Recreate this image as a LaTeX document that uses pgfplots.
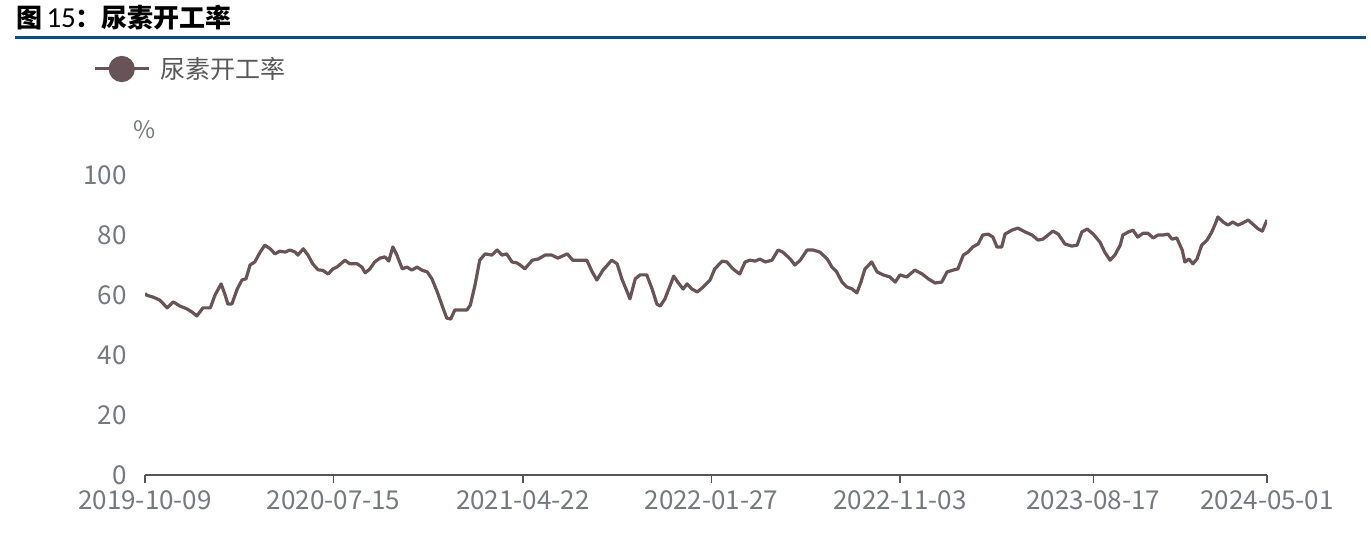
\documentclass[border=0pt]{standalone}
\usepackage{fontspec}
\setmainfont{Noto Sans CJK SC}
\newfontfamily\numfont{Carlito}
\usepackage{pgfplots}
\pgfplotsset{compat=1.18}
\definecolor{linec}{RGB}{104,84,86}
\definecolor{tickc}{RGB}{118,120,128}
\definecolor{axisc}{RGB}{84,86,92}
\definecolor{rulec}{RGB}{12,80,128}
\definecolor{legc}{RGB}{88,88,88}

\pgfplotstableread{
day rate
0 60.5
3 59.9
12 59.3
22 58.3
33 55.7
42 57.7
52 56.3
62 55.4
70 54.3
77 53
86 55.7
97 55.7
104 60
113 63.7
119 60
123 57
129 57
137 62
144 65
150 65.4
156 70
163 71
171 74.3
178 76.6
186 75.4
193 73.7
200 74.6
208 74.3
215 75
223 74.3
227 73.3
235 75.4
242 73.3
249 70.4
257 68.4
264 68.2
272 67
279 68.7
285 69.3
297 71.6
304 70.4
315 70.4
322 69.3
327 67.4
334 68.7
341 71
349 72.3
356 72.7
362 71.3
368 76
374 73.3
382 68.7
389 69.3
396 68.3
404 69.3
411 68.3
419 67.7
426 65.4
434 61
441 56.6
448 52.3
454 52
460 55
471 55
478 55
483 56.6
490 63.3
497 71.6
505 73.7
515 73.3
523 75
530 73.3
537 73.7
545 71
552 70.7
557 70
564 68.7
575 71.6
584 72
594 73.3
604 73.3
613 72.3
627 73.7
635 71.6
646 71.6
656 71.6
664 67.7
671 65
680 68.3
693 71.6
701 70.4
708 65.4
716 61
720 58.7
728 65.4
735 66.7
745 66.7
753 62
760 57
765 56.3
772 58.7
780 63.3
785 66.3
791 64.3
799 62
805 63.7
812 62
820 61
829 62.7
839 65
846 68.7
857 71.3
864 71
873 68.7
883 67
891 71
898 71.6
906 71.3
913 72
921 71
931 71.6
940 75
947 74.3
958 72
965 70
973 71.6
983 75
992 75
1002 74.3
1013 72
1020 69.3
1027 67.7
1035 64.3
1042 62.7
1050 62
1057 60.7
1063 64.3
1069 68.7
1079 71
1087 67.7
1096 66.7
1106 66
1114 64.3
1121 66.7
1131 66
1143 68.3
1154 67
1163 65.4
1173 64
1183 64.3
1191 67.7
1200 68.3
1207 68.7
1215 73.3
1222 74.3
1229 76
1237 77
1244 80
1252 80.3
1259 79.3
1265 76
1272 76
1277 80.3
1287 81.6
1296 82.3
1307 81
1317 80
1326 78.3
1333 78.6
1341 80
1348 81.3
1356 80.3
1366 77
1376 76.3
1384 76.6
1391 81
1399 82
1408 80.3
1418 77.6
1425 74.3
1433 71.6
1440 73.3
1448 76.6
1452 80
1460 81
1467 81.6
1474 79.3
1482 80.6
1489 80.6
1497 79
1504 80
1512 80
1519 80.3
1525 78.6
1532 79
1540 75
1544 71
1550 72
1556 70.4
1562 72
1569 76.6
1577 78.3
1584 81
1589 83.6
1593 86
1601 84.3
1608 83.3
1615 84.3
1623 83.3
1630 84
1638 85
1645 83.6
1653 82
1659 81.3
1666 85
}\ureadata

\begin{document}
\begin{tikzpicture}[x=1pt,y=1pt]
\useasboundingbox (0,0) rectangle (1371,537);
% title and rule
\node[anchor=west, inner sep=0pt] at (16,519)
  {\fontsize{26}{30}\selectfont\bfseries 图\,{\fontsize{29}{30}\selectfont\numfont\mdseries 15}：尿素开工率};
\draw[rulec, line width=3pt] (15,499) -- (1366,499);
% unit
\node[text=tickc, font=\fontsize{24}{28}\selectfont] at (145,407) {\%};

\begin{axis}[
  at={(145pt,62pt)}, anchor=south west,
  scale only axis, width=1122pt, height=300pt,
  xmin=0, xmax=1666, ymin=0, ymax=100,
  axis lines*=left,
  axis line style={-},
  y axis line style={draw=none},
  x axis line style={axisc, line width=1.5pt},
  tick align=outside,
  major tick length=8pt,
  xtick style={axisc, line width=1.5pt},
  ytick style={draw=none},
  xtick={0,280,561,841,1121,1408,1666},
  xticklabels={2019-10-09,2020-07-15,2021-04-22,2022-01-27,2022-11-03,2023-08-17,2024-05-01},
  ytick={0,20,...,100},
  /pgf/number format/assume math mode=true,
  ticklabel style={font=\fontsize{26}{30}\selectfont, text=tickc},
  yticklabel style={anchor=east, inner sep=0pt, xshift=-10pt},
  xticklabel style={anchor=north, inner sep=0pt, yshift=-7pt},
  legend style={at={(axis description cs:-0.0463,1.3533)}, anchor=west,
    draw=none, fill=none, inner sep=0pt, nodes={inner sep=0pt},
    font=\fontsize{25}{30}\selectfont, text=legc},
  legend image code/.code={
    \draw[line width=3pt] (0pt,0pt) -- (54pt,0pt);
    \fill (27pt,0pt) circle (11.5pt);
    \path (64pt,0pt);},
]
\addplot[color=linec, line width=3.2pt, line join=round, no markers] table[x=day, y=rate] {\ureadata};
\addlegendentry{尿素开工率}
\end{axis}
\end{tikzpicture}
\end{document}
